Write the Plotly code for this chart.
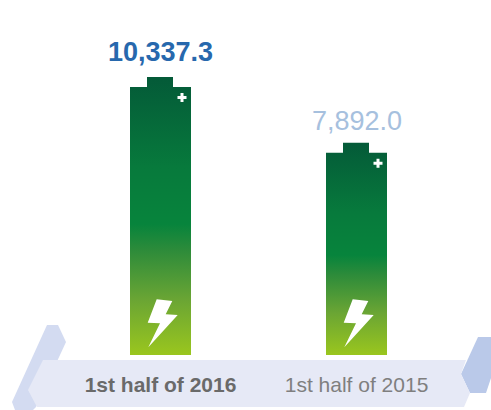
import base64
import plotly.graph_objects as go

categories = ["1st half of 2016", "1st half of 2015"]
tick_labels = ["<b>1st half of 2016</b>", '<span style="color:#7f7f7f">1st half of 2015</span>']
values = [10337.3, 7892.0]
value_labels = ["<b>10,337.3</b>", "7,892.0"]
value_colors = ["#2768ad", "#a6c0de"]
label_shift_px = [8, 5]

W, H = 491, 410
BASE_PX = 355
PX_PER_UNIT = 278 / 10337.3
BAR_PX = 61
SPACING_PX = 196
CENTER0_PX = 160.5
PAD_PX = 2
bar_w = BAR_PX / SPACING_PX
x_range = [-CENTER0_PX / SPACING_PX, (W - CENTER0_PX) / SPACING_PX]
y_top = BASE_PX / PX_PER_UNIT


def px(x, y):
    return x / W, (BASE_PX - y) / BASE_PX


def poly(points):
    parts = []
    for i, (x, y) in enumerate(points):
        a, b = px(x, y)
        parts.append(("M" if i == 0 else "L") + f"{a:.5f},{b:.5f}")
    return " ".join(parts) + " Z"


def battery_uri(h):
    total = h + PAD_PX
    svg = f'''<svg xmlns="http://www.w3.org/2000/svg" width="61" height="{total:.2f}" viewBox="0 {-PAD_PX} 61 {total:.2f}" preserveAspectRatio="none">
<defs><linearGradient id="g" x1="0" y1="0" x2="0" y2="1">
<stop offset="0" stop-color="#045a38"/><stop offset="0.33" stop-color="#077a3c"/>
<stop offset="0.53" stop-color="#07843c"/><stop offset="0.62" stop-color="#2c8b3a"/>
<stop offset="0.80" stop-color="#6aa534"/><stop offset="1" stop-color="#9ac61e"/>
</linearGradient></defs>
<rect y="{-PAD_PX}" width="61" height="{total:.2f}" fill="#ffffff"/>
<path d="M0 10 H17 V0 H43 V10 H61 V{h:.2f} H0 Z" fill="url(#g)"/>
<rect x="50.5" y="16" width="3" height="9" fill="#ffffff"/>
<rect x="47.5" y="19" width="9" height="3" fill="#ffffff"/>
<path transform="translate(0 {h-75:.2f})" d="M26.7 19.3 L42.3 21 L35.7 34.3 L47.7 35 L18.3 67.3 L30 43.3 L17.7 42.7 Z" fill="#ffffff"/>
</svg>'''
    return "data:image/svg+xml;base64," + base64.b64encode(svg.encode()).decode()


fig = go.Figure(
    go.Bar(
        x=categories,
        y=values,
        width=bar_w,
        marker=dict(color="#07843c", line=dict(width=0)),
        cliponaxis=False,
        hoverinfo="skip",
    )
)

images = []
annotations = []
for i, v in enumerate(values):
    pad = PAD_PX / PX_PER_UNIT
    images.append(dict(
        source=battery_uri(v * PX_PER_UNIT), xref="x", yref="y",
        x=i - bar_w / 2, y=v + pad, sizex=bar_w, sizey=v + pad,
        xanchor="left", yanchor="top", sizing="stretch", layer="above",
    ))
    annotations.append(dict(
        x=categories[i], y=v, xref="x", yref="y", text=value_labels[i], showarrow=False,
        yanchor="bottom", yshift=label_shift_px[i],
        font=dict(family="Liberation Sans", size=27, color=value_colors[i]),
    ))

shapes = [
    dict(type="path", xref="paper", yref="paper", layer="below", line_width=0, fillcolor="#d3dbf1",
         path=poly([(47, 325), (58, 325), (66, 342), (36, 407), (33, 410), (15, 410), (12, 402)])),
    dict(type="path", xref="paper", yref="paper", layer="below", line_width=0, fillcolor="#bac9e9",
         path=poly([(478, 337), (491, 337), (491, 378), (486, 393), (470, 393), (461, 374)])),
    dict(type="path", xref="paper", yref="paper", layer="below", line_width=0, fillcolor="#e6e9f6",
         path=poly([(43, 360), (466, 360), (461, 374), (470, 393), (464, 407), (37, 407), (28, 390)])),
]

fig.update_layout(
    width=W, height=H,
    margin=dict(l=0, r=0, t=0, b=H - BASE_PX, pad=0),
    paper_bgcolor="#ffffff", plot_bgcolor="rgba(0,0,0,0)",
    showlegend=False, images=images, shapes=shapes, annotations=annotations,
    font=dict(family="Liberation Sans"),
    xaxis=dict(type="category", range=x_range, tickmode="array", tickvals=categories, ticktext=tick_labels,
               showgrid=False, zeroline=False, showline=False, ticks="outside", ticklen=11,
               tickcolor="rgba(0,0,0,0)", tickfont=dict(family="Liberation Sans", size=21, color="#6a6a6a")),
    yaxis=dict(range=[0, y_top], visible=False, showgrid=False, zeroline=False),
)
fig.write_html("out.html", config=dict(displayModeBar=False),
               post_script="document.body.style.margin='0';document.documentElement.style.overflow='hidden';")
